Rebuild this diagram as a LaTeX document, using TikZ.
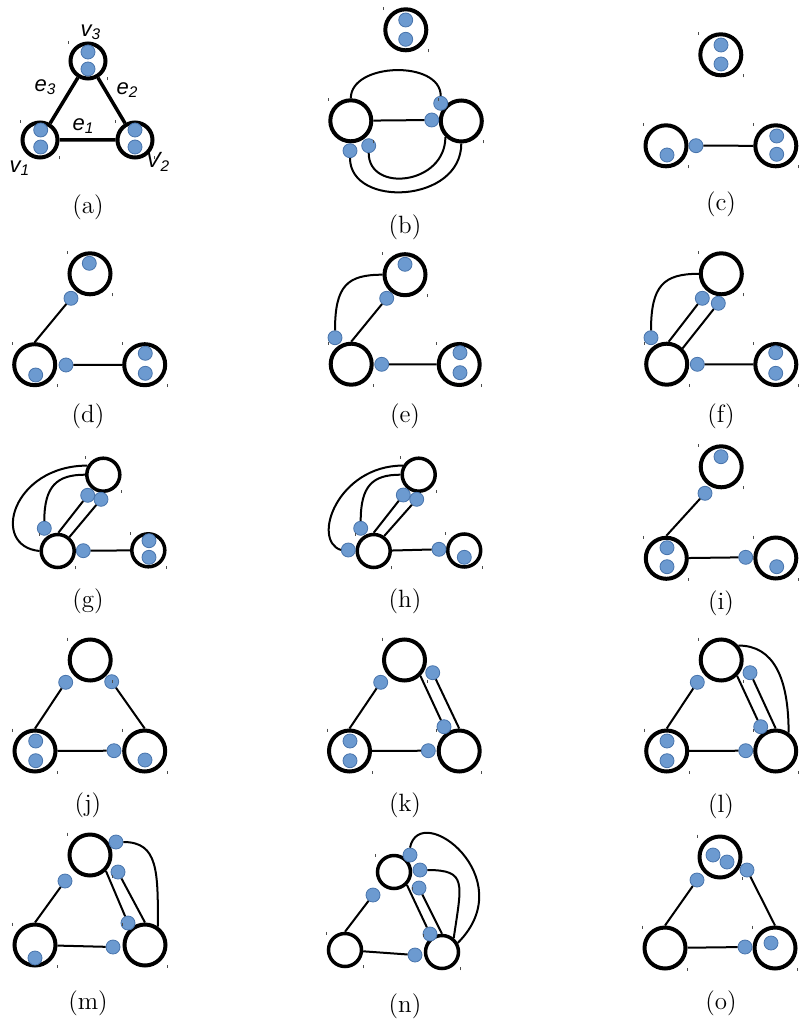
\documentclass[tikz,border=0pt]{standalone}
\usepackage{fontspec}
\newfontfamily\arialf{Liberation Sans}
\usepackage{tikz}

\definecolor{dotfill}{RGB}{108,154,208}
\definecolor{dotline}{RGB}{72,116,172}
\tikzset{
	vtx/.style={draw, circle, line width=2pt, minimum size=20.5pt, inner sep=0pt},
	vtxa/.style={vtx, minimum size=17.5pt},
	vtxs/.style={vtx, line width=1.75pt, minimum size=16.5pt},
	hdot/.style={draw=dotline, fill=dotfill, circle, line width=0.4pt, minimum size=7pt, inner sep=0pt},
	edg/.style={line width=1pt},
	edga/.style={line width=1.75pt},
	tickmk/.style={draw=black!70, line width=0.5pt},
	sublbl/.style={font=\fontsize{12.5}{14}\selectfont},
	elbl/.style={font=\arialf\itshape\fontsize{11}{12}\selectfont, inner sep=0pt}
}
\newcommand\vmarks[1]{\draw[tickmk] (#1.west |- #1.north) -- ++(0,3) (#1.east |- #1.south) -- ++(0,-3);}

\begin{document}
\begin{tikzpicture}[x=0.5pt, y=-0.5pt]
	\useasboundingbox (0,0) rectangle (798,1026);

	% (a) the hypergraph
	\node[vtxa] (a1) at (40,140) {};
	\node[vtxa] (a2) at (135,140) {};
	\node[vtxa] (a3) at (88,61) {};
	\draw[edga] (a1) -- (a2) (a2) -- (a3) (a3) -- (a1);
	\foreach \x/\y [count=\i] in {40.7/130, 40.7/147, 135/130, 135/147, 88/52, 88/69} {
		\node[hdot] (ad\i) at (\x,\y) {};
	}
	\node[elbl] (lv1) at (20,168) {v\textsubscript{1}};
	\node[elbl] (lv2) at (158,162) {V\textsubscript{2}};
	\node[elbl] (lv3) at (91,32) {v\textsubscript{3}};
	\node[elbl] (le1) at (83.5,126) {e\textsubscript{1}};
	\node[elbl] (le2) at (127.5,90) {e\textsubscript{2}};
	\node[elbl] (le3) at (45.5,87.5) {e\textsubscript{3}};
	\node[sublbl] (lba) at (88,207) {(a)};

	% (b)
	\node[vtx] (bT) at (405.8,29.8) {};
	\node[vtx] (bL) at (350.8,120.8) {};
	\node[vtx] (bR) at (461.3,121) {};
	\foreach \x/\y [count=\i] in {405.7/20, 405.7/39.3, 440.7/103.3, 431.7/120, 350/150.7, 368.7/145.7} {
		\node[hdot] (bd\i) at (\x,\y) {};
	}
	\draw[edg] (bL) -- (bd4);
	\draw[edg] (bL.north) .. controls +(0,-36) and +(0,-36) .. (bd3.north);
	\draw[edg] (bd6.south) .. controls +(0,40) and +(0,48) .. (bR.225);
	\draw[edg] (bd5.south) .. controls +(0,50) and +(0,60) .. (bR.south);
	\node[sublbl] (lbb) at (405,227) {(b)};

	% (c)
	\node[vtx] (cT) at (720.8,54.8) {};
	\node[vtx] (cL) at (666,145.8) {};
	\node[vtx] (cR) at (775.8,145.8) {};
	\foreach \x/\y [count=\i] in {721/45, 721/64, 667/155, 776.7/136, 776.7/154.3, 696/145.7} {
		\node[hdot] (cd\i) at (\x,\y) {};
	}
	\draw[edg] (cd6) -- (cR);
	\node[sublbl] (lbc) at (721,204) {(c)};

	% (d)
	\node[vtx] (dT) at (90,273.8) {};
	\node[vtx] (dL) at (34.7,364.7) {};
	\node[vtx] (dR) at (144.7,364.7) {};
	\foreach \x/\y [count=\i] in {89.3/263.3, 35.7/375, 145.3/353.3, 145.3/373.3, 66/365, 71/298.3} {
		\node[hdot] (dd\i) at (\x,\y) {};
	}
	\draw[edg] (dd5) -- (dR);
	\draw[edg] (dd6) -- (dL.north);
	\node[sublbl] (lbd) at (88,416) {(d)};

	% (e)
	\node[vtx] (eT) at (405,274.7) {};
	\node[vtx] (eL) at (351.2,364.2) {};
	\node[vtx] (eR) at (459.2,364.5) {};
	\foreach \x/\y [count=\i] in {405/264.3, 460/352.7, 460/372.7, 381.7/364.3, 386.7/298.3, 335/337.7} {
		\node[hdot] (ed\i) at (\x,\y) {};
	}
	\draw[edg] (ed4) -- (eR);
	\draw[edg] (ed5) -- (eL.north);
	\draw[edg] (ed6.north) .. controls +(0,-45) and +(-35,0) .. (eT.west);
	\node[sublbl] (lbe) at (405,416) {(e)};

	% (f)
	\node[vtx] (fT) at (721.3,273.8) {};
	\node[vtx] (fL) at (666.7,364.2) {};
	\node[vtx] (fR) at (775.8,364.5) {};
	\foreach \x/\y [count=\i] in {775.7/352.7, 775.7/373.3, 697.3/364.3, 702.3/298.3, 718.3/303.3, 651/337.7} {
		\node[hdot] (fd\i) at (\x,\y) {};
	}
	\draw[edg] (fd3) -- (fR);
	\draw[edg] (fd4) -- (fL.85);
	\draw[edg] (fd5) -- (fL.45);
	\draw[edg] (fd6.north) .. controls +(0,-45) and +(-35,0) .. (fT.west);
	\node[sublbl] (lbf) at (721,416) {(f)};

	% (g)
	\node[vtxs] (gT) at (103.3,474.7) {};
	\node[vtxs] (gL) at (57.7,551) {};
	\node[vtxs] (gR) at (148.3,550.3) {};
	\foreach \x/\y [count=\i] in {149/540.7, 149/557.3, 83.3/550.7, 87.7/495.3, 101/499.3, 44.3/528.3} {
		\node[hdot] (gd\i) at (\x,\y) {};
	}
	\draw[edg] (gd3) -- (gR);
	\draw[edg] (gd4) -- (gL.88);
	\draw[edg] (gd5) -- (gL.50);
	\draw[edg] (gd6.north) .. controls +(0,-35) and +(-28,0) .. (gT.west);
	\draw[edg] (gL.west) .. controls +(-50,-5) and +(-75,0) .. (gT.150);
	\node[sublbl] (lbg) at (88,601) {(g)};

	% (h)
	\node[vtxs] (hT) at (418.7,474.7) {};
	\node[vtxs] (hL) at (373.7,551) {};
	\node[vtxs] (hR) at (464.2,550.5) {};
	\foreach \x/\y [count=\i] in {464.3/557.3, 439/549.3, 403.3/495, 416.7/499.3, 360.7/528.3, 348.3/550} {
		\node[hdot] (hd\i) at (\x,\y) {};
	}
	\draw[edg] (hL) -- (hd2);
	\draw[edg] (hd3) -- (hL.north);
	\draw[edg] (hd4) -- (hL.55);
	\draw[edg] (hd5.north) .. controls +(0,-35) and +(-28,0) .. (hT.west);
	\draw[edg] (hd6.west) .. controls +(-30,-10) and +(-65,0) .. (hT.150);
	\node[sublbl] (lbh) at (405,601) {(h)};

	% (i)
	\node[vtx] (iT) at (721.2,466.8) {};
	\node[vtx] (iL) at (666.3,558.3) {};
	\node[vtx] (iR) at (775.8,558) {};
	\foreach \x/\y [count=\i] in {721/456.7, 667/547.7, 667/566.7, 776.7/566.7, 745.7/557.3, 705/493.3} {
		\node[hdot] (id\i) at (\x,\y) {};
	}
	\draw[edg] (iL) -- (id5);
	\draw[edg] (id6) -- (iL.north);
	\node[sublbl] (lbi) at (721,603) {(i)};

	% (j)
	\node[vtx] (jT) at (90.2,660) {};
	\node[vtx] (jL) at (35,751) {};
	\node[vtx] (jR) at (144.7,751) {};
	\foreach \x/\y [count=\i] in {35.7/741, 35.7/760.7, 145/760, 114/750.7, 65.7/682.3, 111.7/681.7} {
		\node[hdot] (jd\i) at (\x,\y) {};
	}
	\draw[edg] (jL) -- (jd4);
	\draw[edg] (jd5) -- (jL.north);
	\draw[edg] (jd6) -- (jR.north);
	\node[sublbl] (lbj) at (88,805) {(j)};

	% (k)
	\node[vtx] (kT) at (404.5,660) {};
	\node[vtx] (kL) at (349.5,751) {};
	\node[vtx] (kR) at (459.2,751) {};
	\foreach \x/\y [count=\i] in {350/741, 350/760.7, 428.3/750.7, 380.7/682.3, 432.7/672.7, 444/726.7} {
		\node[hdot] (kd\i) at (\x,\y) {};
	}
	\draw[edg] (kL) -- (kd3);
	\draw[edg] (kd4) -- (kL.north);
	\draw[edg] (kd5) -- (kR.north);
	\draw[edg] (kT.315) -- (kd6);
	\node[sublbl] (lbk) at (405,805) {(k)};

	% (l)
	\node[vtx] (lT) at (721.2,660) {};
	\node[vtx] (lL) at (666.7,751) {};
	\node[vtx] (lR) at (775.7,751) {};
	\foreach \x/\y [count=\i] in {667/741, 667/760.7, 745.7/750.7, 697.3/682.3, 750/672.7, 760.7/726.7} {
		\node[hdot] (ld\i) at (\x,\y) {};
	}
	\draw[edg] (lL) -- (ld3);
	\draw[edg] (ld4) -- (lL.north);
	\draw[edg] (ld5) -- (lR.north);
	\draw[edg] (lT.315) -- (ld6);
	\draw[edg] (lT.40) .. controls +(35,0) and +(0,-55) .. (lR.55);
	\node[sublbl] (lbl) at (721,806) {(l)};

	% (m)
	\node[vtx] (mT) at (90,855) {};
	\node[vtx] (mL) at (35,945) {};
	\node[vtx] (mR) at (145,945) {};
	\foreach \x/\y [count=\i] in {35/958, 113/947, 65/881, 116/842, 118/872, 128/923} {
		\node[hdot] (md\i) at (\x,\y) {};
	}
	\draw[edg] (mL) -- (md2);
	\draw[edg] (md3) -- (mL.north);
	\draw[edg] (md5) -- (mR.north);
	\draw[edg] (mT.315) -- (md6);
	\draw[edg] (md4.east) .. controls +(35,0) and +(0,-55) .. (mR.55);
	\node[sublbl] (lbm) at (88,1003) {(m)};

	% (n)
	\node[vtxs] (nT) at (394,872) {};
	\node[vtxs] (nL) at (345,950) {};
	\node[vtxs] (nR) at (442,952) {};
	\foreach \x/\y [count=\i] in {415/955, 373/895, 410/855, 420/870, 419/888, 430/934} {
		\node[hdot] (nd\i) at (\x,\y) {};
	}
	\draw[edg] (nL) -- (nd1);
	\draw[edg] (nd2) -- (nL.north);
	\draw[edg] (nd5) -- (nR.north);
	\draw[edg] (nT.315) -- (nd6);
	\draw[edg] (nd4.east) .. controls +(40,0) and +(8,-55) .. (nR.50);
	\draw[edg] (nd3.north) .. controls +(10,-48) and +(65,-65) .. (nR.30);
	\node[sublbl] (lbn) at (405,1006) {(n)};

	% (o)
	\node[vtx] (oT) at (720,857) {};
	\node[vtx] (oL) at (665,948) {};
	\node[vtx] (oR) at (775,948) {};
	\foreach \x/\y [count=\i] in {713/855, 727/862, 771/943, 745/947, 697/880, 747/870} {
		\node[hdot] (od\i) at (\x,\y) {};
	}
	\draw[edg] (oL) -- (od4);
	\draw[edg] (od5) -- (oL.north);
	\draw[edg] (od6) -- (oR.north);
	\node[sublbl] (lbo) at (721,1003) {(o)};

	% little corner marks
	\foreach \v in {a1,a2,a3,bT,bL,bR,cT,cL,cR,dT,dL,dR,eT,eL,eR,fT,fL,fR,gT,gL,gR,hT,hL,hR,iT,iL,iR,jT,jL,jR,kT,kL,kR,lT,lL,lR,mT,mL,mR,nT,nL,nR,oT,oL,oR} {
		\vmarks{\v}
	}
\end{tikzpicture}
\end{document}
